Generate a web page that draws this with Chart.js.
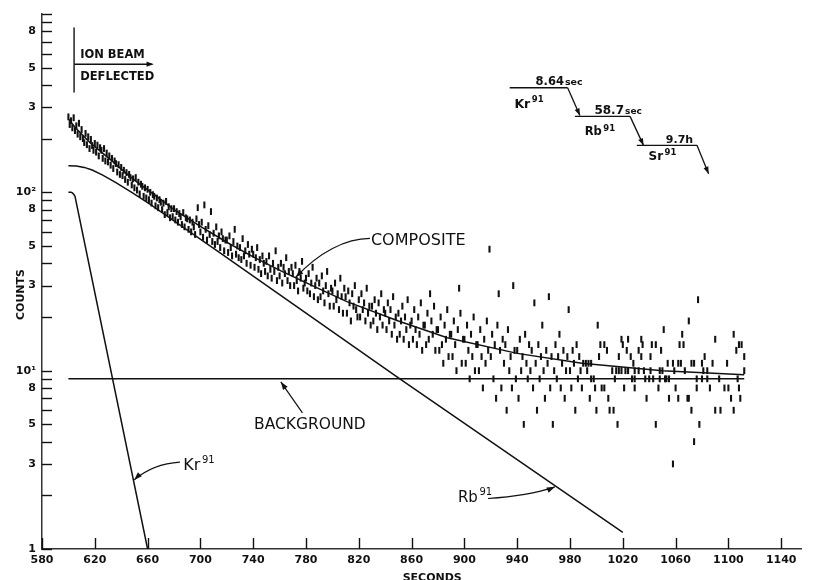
<!DOCTYPE html>
<html><head><meta charset="utf-8">
<script src="https://cdn.jsdelivr.net/npm/chart.js@4/dist/chart.umd.min.js"></script>
<style>html,body{margin:0;padding:0;background:#fff;}#wrap{width:819px;height:580px;}</style>
</head><body><div id="wrap"><canvas id="c" width="819" height="580"></canvas></div>
<script>
// ---------- data ----------
const xTicks = [580,620,660,700,740,780,820,860,900,940,980,1020,1060,1100,1140];
const yTicks = [1,2,3,4,5,6,7,8,9,10,20,30,40,50,60,70,80,90,100,200,300,400,500,600,700,800,900,1000];
const yTickLabels = {1:'1',3:'3',5:'5',8:'8',10:'10\u00B9',30:'3',50:'5',80:'8',100:'10\u00B2',300:'3',500:'5',800:'8'};

const krTimes = [600,602,603,604,605,660];
const krCounts = [100,100,99.3,97.5,95,1];

const rbTimes = [600,606,612,618,626,636,648,662,680,713,850,1020];
const rbCounts = [141,140.3,138,133.4,125,113.5,100,85.5,69.2,46.8,9.12,1.24];

const compTimes = [600,605,610,617,625,633,642,652,665,680,700,720,740,761,786,811,850,887,940,989,1050,1112];
const compCounts = [258,232,212,188,168,150,131,114,97,80,64.5,52.5,43.5,36.3,29.7,24.4,19.0,15.3,12.5,11.0,10.0,9.5];

const bgTimes = [600,1112];
const bgCounts = [9,9];

const earlyTimes = [
600,601,602,603,604,605,606,607,608,609,
610,611,612,613,614,615,616,617,618,619,
620,621,622,623,624,625,626,627,628,629,
630,631,632,633,634,635,636,637,638,639,
640,641,642,643,644,645,646,647,648,649,
650,651,652,653,654,655,656,657,658,659,
660,661,662,663,664,665,666,667,668,669,
670,671,672,673,674,675,676,677,678,679,
680,681,682,683,684,685,686,687,688,689,
690,691,692,693,694,695,696,697,698,699,
700,701,702,703,704,705,706,707,708,709,
710,711,712,713,714,715,716,717,718,719,
720,721,722,723,724,725,726,727,728,729,
730,731,732,733,734,735,736,737,738,739,
740,741,742,743,744,745,746,747,748,749,
750,751,752,753,754,755,756,757,758,759,
760,761,762,763,764,765,766,767,768,769,
770,771,772,773,774,775,776,777,778,779,
780,781,782,783,784,785,786,787,788,789,
790,791,792,793,794,795,796,797,798,799,
800,801,802,803,804,805,806,807,808,809,
810,811,812,813,814,815,816,817,818,819,
820,821,822,823,824,825,826,827,828,829,
830,831,832,833,834,835,836,837,838,839,
840,841,842,843,844,845,846,847,848,849,
850,851,852,853,854,855,856,857,858,859,
860,861,862,863,864,865,866,867,868,869,
870,871,872,873,874,875,876,877,878,879,
880,881,882,883,884,885,886,887,888,889,
890,891,892,893,894,895,896,897,898,899,
900,901,902,903,904,905,906,907,908,909,
910,911,912,913,914,915,916,917,918,919,
920,921,922,923,924,925,926,927,928,929,
930,931,932,933,934,935,936,937,938,939,
940,941,942,943,944,945,946,947,948,949,
950,951,952,953,954,955,956,957,958,959,
960,961,962,963,964,965,966,967,968,969,
970,971,972,973,974,975,976,977,978,979,
980,981,982,983,984,985,986,987,988];
const earlyCounts = [
265,240,252,230,262,222,236,212,244,205,
225,200,190,214,185,205,176,198,183,172,
188,168,184,160,178,172,155,176,150,166,
148,160,142,155,136,150,145,130,143,126,
138,124,133,118,129,114,126,121,110,119,
106,121,103,114,98,111,108,95,106,93,
104,91,100,87,97,95,84,93,82,91,
88,80,87,75,89,77,83,72,81,73,
81,70,78,68,76,73,66,77,64,72,
71,62,70,60,68,64,58,71,82,66,
60,68,56,85,62,54,65,58,78,53,
59,51,64,53,57,49,60,55,47,54,
54,46,57,49,44,53,62,45,50,43,
49,42,55,44,47,40,51,45,39,48,
45,38,43,49,37,42,35,44,40,36,
41,34,44,37,33,40,36,47,32,38,
34,40,31,38,35,43,32,36,30,38,
35,30,39,32,28,36,33,41,29,31,
33,28,35,27,31,38,26,30,33,25,
31,26,34,28,24,30,36,27,23,29,
28,23,31,25,27,22,33,26,21,29,
26,21,28,24,19,27,23,30,22,20,
25,20,27,22,24,19,29,21,23,18,
23,19,25,21,17,24,20,27,18,22,
21,17,24,19,22,16,26,18,20,15,
21,16,19,23,15,20,17,25,14,18,
19,15,22,17,14,20,16,24,13,18,
18,14,21,15,27,19,16,23,13,17,
17,13,20,14,11,18,15,22,12,16,
16,12,19,14,10,17,29,21,11,15,
15,11,18,13,9,16,12,20,10,14,
14,10,17,12,8,15,11,19,13,48,
12,16,9,14,7,18,27,13,8,15,
11,14,6,17,10,12,8,30,13,9,
13,7,15,10,12,5,16,11,9,14,
10,13,8,24,11,6,14,9,12,18,
10,7,13,11,26,8,12,5,10,14,
9,12,16,8,11,13,7,10,12,22,
10,8,13,11,6,14,9,12,10];

const lateTimes = [1077,1070,1001,1051,1065,1104,1019,1024,1034,1090,1003,1006,1020,1035,1042,1045,1063,1066,1108,1110,1008,1023,1032,1049,1106,1002,1017,1026,1034,1041,1082,1112,990,992,994,996,1028,1054,1058,1062,1064,1072,1074,1080,1088,1099,993,1012,1015,1017,1019,1022,1024,1029,1032,1036,1041,1048,1050,1059,1067,1081,1084,1112,996,998,1014,1027,1029,1037,1040,1043,1048,1052,1053,1055,1076,1080,1084,1093,1107,989,999,1004,1006,1021,1029,1047,1060,1076,1086,1097,1100,1108,995,1009,1038,1055,1062,1069,1070,1102,1109,1000,1010,1013,1072,1090,1094,1104,1016,1045,1078,1074,1058];
const lateCounts = [25,19,18,17,16,16,15,15,15,15,14,14,14,14,14,14,14,14,14,14,13,13,13,13,13,12,12,12,12,12,12,12,11,11,11,11,11,11,11,11,11,11,11,11,11,11,10,10,10,10,10,10,10,10,10,10,10,10,10,10,10,10,10,10,9,9,9,9,9,9,9,9,9,9,9,9,9,9,9,9,9,8,8,8,8,8,8,8,8,8,8,8,8,8,7,7,7,7,7,7,7,7,7,6,6,6,6,6,6,6,5,5,5,4,3];

// ---------- helpers ----------
const FONT = '"DejaVu Sans", sans-serif';
const INK = '#111';
const pts = (ts, vs) => ts.map((t, i) => ({x: t, y: vs[i]}));

function supText(ctx, base, sup, x, y, fs, ss, wt) {
  wt = wt || '';
  ctx.font = wt + ' ' + fs + 'px ' + FONT;
  ctx.fillText(base, x, y);
  const w = ctx.measureText(base).width;
  ctx.font = wt + ' ' + ss + 'px ' + FONT;
  ctx.fillText(sup, x + w + 1.5, y - fs * 0.42);
}
function arrowHead(ctx, fx, fy, tx, ty, len, wid) {
  const a = Math.atan2(ty - fy, tx - fx);
  ctx.beginPath();
  ctx.moveTo(tx, ty);
  ctx.lineTo(tx - len * Math.cos(a) + wid * Math.sin(a), ty - len * Math.sin(a) - wid * Math.cos(a));
  ctx.lineTo(tx - len * Math.cos(a) - wid * Math.sin(a), ty - len * Math.sin(a) + wid * Math.cos(a));
  ctx.closePath();
  ctx.fill();
}

const decor = {
  id: 'decor',
  afterDatasetsDraw(chart) {
    const {ctx, chartArea: ca, scales: {x, y}} = chart;
    const X = t => x.getPixelForValue(t), Y = v => y.getPixelForValue(v);
    ctx.save();
    ctx.strokeStyle = INK; ctx.fillStyle = INK; ctx.lineWidth = 1.4;
    // inward ticks
    yTicks.forEach(v => { const p = Math.round(Y(v)) + 0.5; ctx.beginPath(); ctx.moveTo(ca.left, p); ctx.lineTo(ca.left + 10, p); ctx.stroke(); });
    xTicks.forEach(t => { const p = Math.round(X(t)) + 0.5; ctx.beginPath(); ctx.moveTo(p, ca.bottom); ctx.lineTo(p, ca.bottom - 11); ctx.stroke(); });

    ctx.textBaseline = 'alphabetic'; ctx.textAlign = 'left';
    // ION BEAM DEFLECTED
    ctx.lineWidth = 1.4;
    ctx.beginPath(); ctx.moveTo(X(604.3), Y(840)); ctx.lineTo(X(604.3), Y(363)); ctx.stroke();
    ctx.beginPath(); ctx.moveTo(X(604.5), Y(523)); ctx.lineTo(X(663.6), Y(523)); ctx.stroke();
    arrowHead(ctx, X(640), Y(523), X(664.5), Y(523), 7, 2.6);
    ctx.font = 'bold 11.5px ' + FONT;
    ctx.fillText('ION BEAM', X(608.9), Y(564));
    ctx.fillText('DEFLECTED', X(608.9), Y(424));

    // decay scheme
    ctx.lineWidth = 1.3;
    const seg = (t1, v1, t2, v2) => { ctx.beginPath(); ctx.moveTo(X(t1), Y(v1)); ctx.lineTo(X(t2), Y(v2)); ctx.stroke(); };
    seg(934.3, 386, 978.2, 386);
    seg(978.2, 386, 987.5, 270); arrowHead(ctx, X(978.2), Y(386), X(987.5), Y(270), 7, 2.6);
    seg(983.7, 266.6, 1025.5, 266.6);
    seg(1025.5, 266.6, 1035.7, 183.4); arrowHead(ctx, X(1025.5), Y(266.6), X(1035.7), Y(183.4), 7, 2.6);
    seg(1030.6, 183.4, 1076.2, 183.4);
    seg(1076.2, 183.4, 1085, 127.3); arrowHead(ctx, X(1076.2), Y(183.4), X(1085), Y(127.3), 7, 2.6);
    ctx.font = 'bold 11.5px ' + FONT; ctx.fillText('8.64', X(953.9), Y(400));
    let w = ctx.measureText('8.64').width; ctx.font = 'bold 9.5px ' + FONT; ctx.fillText('sec', X(953.9) + w + 1, Y(400));
    ctx.font = 'bold 12px ' + FONT; ctx.fillText('58.7', X(998.5), Y(275));
    w = ctx.measureText('58.7').width; ctx.font = 'bold 9px ' + FONT; ctx.fillText('sec', X(998.5) + w + 1, Y(275));
    ctx.font = 'bold 11px ' + FONT; ctx.fillText('9.7h', X(1052.6), Y(189));
    supText(ctx, 'Kr', '91', X(937.9), Y(299), 12.5, 8.5, 'bold');
    supText(ctx, 'Rb', '91', X(991.1), Y(208.6), 11.5, 8.5, 'bold');
    supText(ctx, 'Sr', '91', X(1039.5), Y(151.2), 12, 8.5, 'bold');

    // COMPOSITE
    ctx.font = '16px ' + FONT; ctx.fillText('COMPOSITE', X(829.2), Y(50.5));
    ctx.lineWidth = 1.2;
    ctx.beginPath(); ctx.moveTo(X(828.5), Y(55.2));
    ctx.bezierCurveTo(X(810.2), Y(55.2), X(789.7), Y(46.1), X(772.2), Y(33.4)); ctx.stroke();
    arrowHead(ctx, X(782), Y(39.5), X(772.2), Y(33.4), 8, 2.8);

    // BACKGROUND
    ctx.font = '15.5px ' + FONT; ctx.fillText('BACKGROUND', X(740.6), Y(4.69));
    ctx.beginPath(); ctx.moveTo(X(777.3), Y(5.8)); ctx.lineTo(X(760.9), Y(8.66)); ctx.stroke();
    arrowHead(ctx, X(777.3), Y(5.8), X(760.9), Y(8.66), 8, 2.8);

    // Kr91 label
    supText(ctx, 'Kr', '91', X(687.1), Y(2.77), 16, 10);
    ctx.beginPath(); ctx.moveTo(X(684.5), Y(3.07));
    ctx.quadraticCurveTo(X(664), Y(3.0), X(649.8), Y(2.44)); ctx.stroke();
    arrowHead(ctx, X(657), Y(2.75), X(649.8), Y(2.44), 8, 2.8);

    // Rb91 label
    supText(ctx, 'Rb', '91', X(895.1), Y(1.84), 15, 10);
    ctx.beginPath(); ctx.moveTo(X(917.9), Y(1.92));
    ctx.quadraticCurveTo(X(948), Y(1.98), X(968.5), Y(2.23)); ctx.stroke();
    arrowHead(ctx, X(958), Y(2.06), X(968.5), Y(2.23), 8, 2.8);

    // axis titles
    ctx.font = 'bold 11px ' + FONT; ctx.textAlign = 'center';
    ctx.fillText('SECONDS', X(875.6), chart.height + 0.5);
    ctx.translate(24, (ca.top + ca.bottom) / 2 + 13);
    ctx.rotate(-Math.PI / 2);
    ctx.fillText('COUNTS', 0, 0);
    ctx.restore();
  }
};

const lineDs = (ts, vs) => ({data: pts(ts, vs), showLine: true, borderColor: INK, borderWidth: 1.5, pointRadius: 0, fill: false, tension: 0});

new Chart(document.getElementById('c'), {
  type: 'scatter',
  data: {
    datasets: [
      lineDs(krTimes, krCounts),
      lineDs(rbTimes, rbCounts),
      lineDs(compTimes, compCounts),
      lineDs(bgTimes, bgCounts),
      {data: pts(earlyTimes, earlyCounts).concat(pts(lateTimes, lateCounts)), pointStyle: 'line', rotation: 90, pointRadius: 3.4, pointHoverRadius: 3.4, borderColor: INK, borderWidth: 2.1, backgroundColor: INK, showLine: false}
    ]
  },
  options: {
    responsive: false, animation: false, devicePixelRatio: 1,
    layout: {padding: {top: 14, right: 18, left: 0, bottom: 0}},
    plugins: {legend: {display: false}, tooltip: {enabled: false}},
    scales: {
      x: {
        type: 'linear', min: 580, max: 1155,
        afterFit: s => { s.height = 31; },
        afterBuildTicks: s => { s.ticks = xTicks.map(v => ({value: v})); },
        grid: {display: true, drawOnChartArea: false, drawTicks: false},
        border: {display: true, color: '#333', width: 1.5},
        ticks: {autoSkip: false, maxRotation: 0, padding: 5, color: INK, font: {family: FONT, size: 11, weight: 'bold'}, callback: v => String(v)}
      },
      y: {
        type: 'logarithmic', min: 1, max: 1000,
        afterFit: s => { s.width = 42; },
        afterBuildTicks: s => { s.ticks = yTicks.map(v => ({value: v})); },
        grid: {display: true, drawOnChartArea: false, drawTicks: false},
        border: {display: true, color: '#333', width: 1.5},
        ticks: {autoSkip: false, padding: 6, color: INK, font: {family: FONT, size: 11, weight: 'bold'}, callback: v => (yTickLabels[v] || '')}
      }
    }
  },
  plugins: [decor]
});
</script></body></html>
